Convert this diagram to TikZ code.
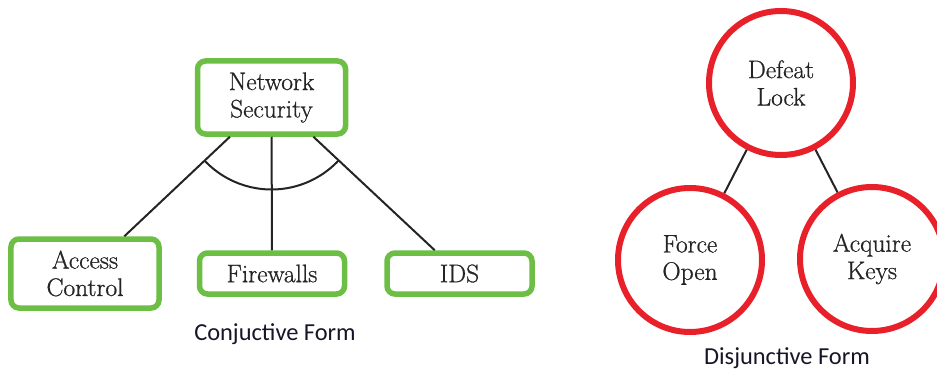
\documentclass[tikz,border=0pt]{standalone}
\usepackage{fontspec}
\newfontfamily\capfont{Carlito}
\newfontfamily\labelfont{Latin Modern Roman}[FakeBold=0.8]
\usetikzlibrary{calc}
\definecolor{boxgreen}{RGB}{108,190,69}
\definecolor{ringred}{RGB}{232,32,42}
\definecolor{inkgray}{RGB}{36,36,36}
\definecolor{capink}{RGB}{22,22,40}
\begin{document}
\begin{tikzpicture}[x=1bp,y=1bp,
  label text/.style={font=\labelfont\fontsize{25.5}{27.5}\selectfont, text=inkgray, align=center},
  gbox/.style={label text, draw=boxgreen, line width=5.5bp, rounded corners=8bp, inner sep=0pt},
  rring/.style={label text, draw=ringred, line width=6bp, circle, minimum size=144bp, inner sep=0pt},
  link/.style={draw=inkgray, line width=2bp},
  caption/.style={font=\capfont\fontsize{24.5}{28}\selectfont, text=capink, anchor=base}]
\clip (0,0) rectangle (937,370);

% conjunctive tree
\node[gbox, minimum width=148bp, minimum height=73bp] (ns) at (271.5,272.5) {Network\\Security};
\node[gbox, minimum width=148bp, minimum height=69bp] (ac) at (85,96.5) {Access\\Control};
\node[gbox, minimum width=145bp, minimum height=41bp] (fw) at (272,96.5) {Firewalls};
\node[gbox, minimum width=145bp, minimum height=41bp] (ids) at (459.5,96.5) {IDS};

\draw[link] (ns) -- (ac);
\draw[link] (ns) -- (fw);
\draw[link] (ns) -- (ids);

% AND arc joining the three branches
\draw[link] let \p1=($(ac)-(ns)$), \p2=($(ids)-(ns)$),
  \n1={atan2(\y1,\x1)}, \n2={atan2(\y2,\x2)} in
  ($(ns)+(\n1:92bp)$) arc[start angle=\n1, end angle=\n2, radius=92bp];

\node[caption] (c1) at (275,30) {Conjuctive Form};

% disjunctive tree
\node[rring] (dl) at (781,287) {Defeat\\Lock};
\node[rring] (fo) at (690,110) {Force\\Open};
\node[rring] (ak) at (872,111) {Acquire\\Keys};

\draw[link] (dl) -- (fo);
\draw[link] (dl) -- (ak);

\node[caption] (c2) at (787,6) {Disjunctive Form};
\end{tikzpicture}
\end{document}
